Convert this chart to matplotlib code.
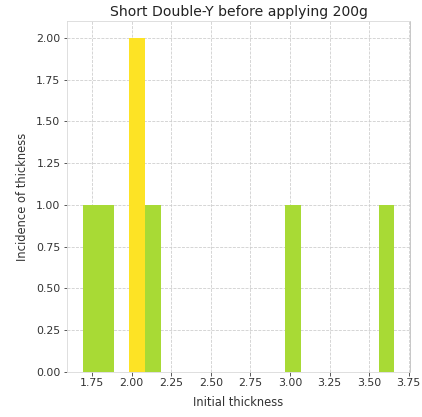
import matplotlib
matplotlib.use("Agg")
import matplotlib.pyplot as plt
import numpy as np

# initial thickness readings (Short Double-Y, before 200g load)
thickness = [1.69, 1.80, 2.00, 2.00, 2.10, 3.00, 3.66]
n_bins = 20

green = "#a8da35"
yellow = "#fde325"

fig = plt.figure(figsize=(422 / 72, 417 / 72), dpi=72)
ax = fig.add_axes([67 / 422, 1 - 372 / 417, 343 / 422, 351 / 417])

counts, edges, patches = ax.hist(thickness, bins=n_bins, color=green, zorder=2)
for c, p in zip(counts, patches):
    if c == counts.max():
        p.set_facecolor(yellow)

ax.grid(True, linestyle="--", color="#cccccc", linewidth=0.8, zorder=0)
ax.set_axisbelow(True)
for s in ax.spines.values():
    s.set_color("#d8d8d8")
ax.spines["right"].set_color("#bbbbbb")
ax.tick_params(colors="#333333", labelsize=11, length=3.5, pad=3)
ax.set_yticks(np.arange(0, 2.01, 0.25))
ax.yaxis.set_major_formatter(matplotlib.ticker.FormatStrFormatter("%.2f"))
ax.set_xticks(np.arange(1.75, 3.76, 0.25))
ax.xaxis.set_major_formatter(matplotlib.ticker.FormatStrFormatter("%.2f"))

ax.set_title("Short Double-Y before applying 200g", fontsize=14, color="#222222", pad=5)
ax.set_xlabel("Initial thickness", fontsize=11.5, color="#333333", labelpad=7)
ax.set_ylabel("Incidence of thickness", fontsize=11.5, color="#333333", labelpad=7)

fig.savefig("out.png", dpi=72)
